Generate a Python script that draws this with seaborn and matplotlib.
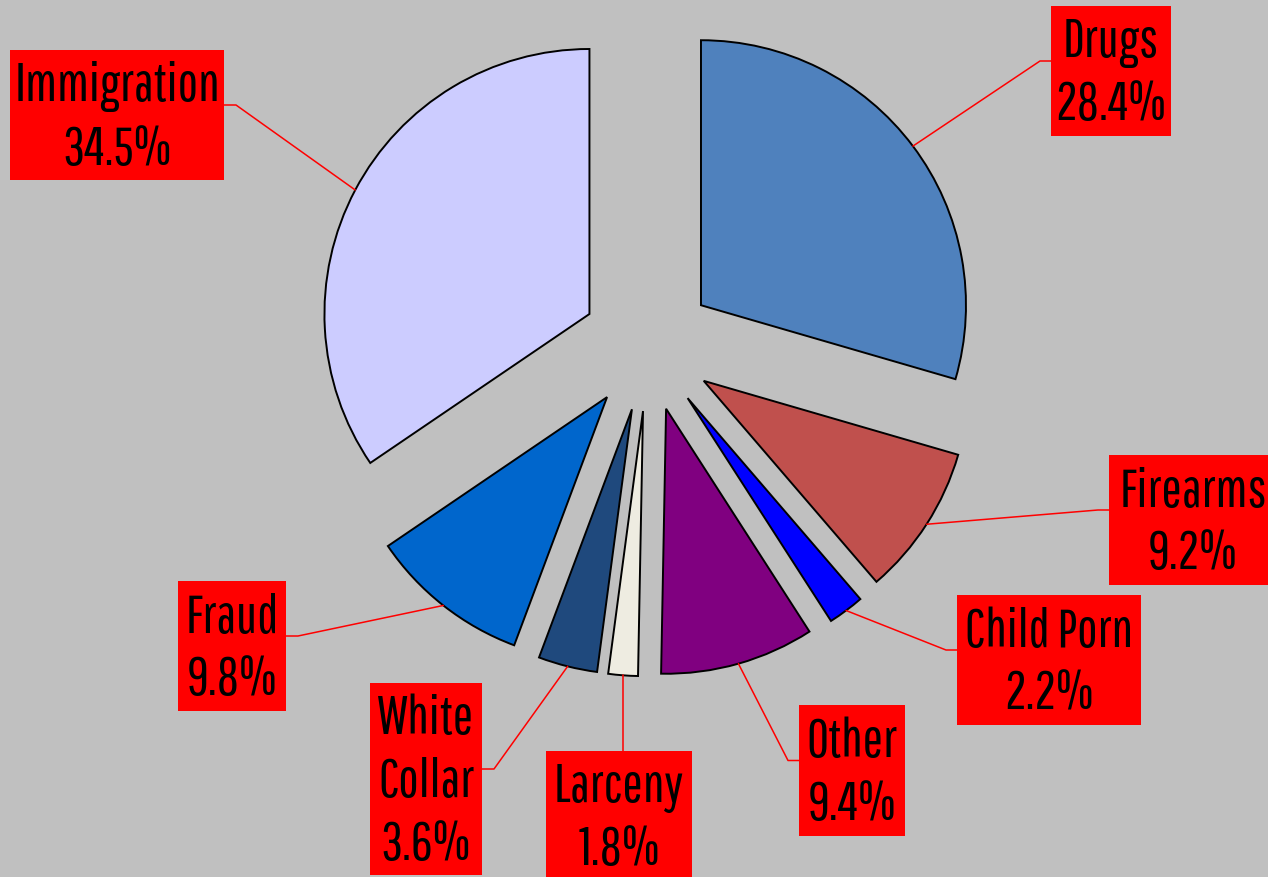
import matplotlib.pyplot as plt
from matplotlib.patches import Rectangle
import numpy as np
import seaborn as sns

# Data
categories = ["Drugs", "Firearms", "Child Porn", "Other", "Larceny",
              "White Collar", "Fraud", "Immigration"]
label_names = ["Drugs", "Firearms", "Child Porn", "Other", "Larceny",
               "White\nCollar", "Fraud", "Immigration"]
shares = [28.4, 9.2, 2.2, 9.4, 1.8, 3.6, 9.8, 34.5]
colors = ["#4F81BD", "#C0504D", "#0000FF", "#800080", "#EEECE1",
          "#1F497D", "#0066CC", "#CCCCFF"]

# Drugs wedge takes the share left over so the pie closes at 12 o'clock
sizes = [100 - sum(shares[1:])] + shares[1:]

# Layout of the label boxes in image pixels: left, top, right, bottom, leader side
boxes = [
    (1051, 7, 1171, 137, "left"),
    (1109, 456, 1277, 586, "left"),
    (957, 596, 1141, 726, "left"),
    (799, 706, 905, 837, "left"),
    (546, 752, 692, 882, "top"),
    (370, 684, 482, 876, "right"),
    (178, 582, 286, 712, "right"),
    (10, 51, 224, 181, "right"),
]

W, H = 1268, 878
CX, CY, R = 648, 346, 265


def px(x, y):
    return (x - CX) / R, (CY - y) / R


sns.set_style("white")
plt.rcParams["font.family"] = ["Saira Extra Condensed", "Pathway Gothic One",
                               "Antonio", "DejaVu Sans"]

fig = plt.figure(figsize=(W / 100, H / 100), dpi=100)
fig.patch.set_facecolor("#C0C0C0")
ax = fig.add_axes([0, 0, 1, 1])
ax.set_facecolor("#C0C0C0")

wedges, _ = ax.pie(
    sizes,
    colors=colors,
    startangle=90,
    counterclock=False,
    explode=[0.25] * len(sizes),
    radius=1,
    wedgeprops=dict(edgecolor="black", linewidth=1.4),
)

x0, y1 = px(0, 0)
x1, y0 = px(W, H)
ax.set_xlim(x0, x1)
ax.set_ylim(y0, y1)
ax.set_aspect("equal")
ax.axis("off")

for w, name, share, (l, t, r, b, side) in zip(wedges, label_names, shares, boxes):
    ang = np.deg2rad((w.theta1 + w.theta2) / 2)
    sx = w.center[0] + w.r * np.cos(ang)
    sy = w.center[1] + w.r * np.sin(ang)

    bl, bt = px(l, t)
    br, bb = px(r, b)
    ax.add_patch(Rectangle((bl, bb), br - bl, bt - bb, facecolor="red",
                           edgecolor="none", zorder=3))

    ey = (bt + bb) / 2 + 10 / R
    if side == "left":
        pts = [(sx, sy), (bl - 11 / R, ey), (bl, ey)]
    elif side == "right":
        pts = [(sx, sy), (br + 12 / R, ey), (br, ey)]
    else:
        pts = [(sx, sy), (sx, bt)]
    xs, ys = zip(*pts)
    ax.plot(xs, ys, color="red", linewidth=1.1, zorder=2)

    ax.text((bl + br) / 2, (bt + bb) / 2 - 2 / R, f"{name}\n{share}%",
            ha="center", va="center", fontsize=39, linespacing=1.32,
            color="black", zorder=4)

fig.savefig("out.png", dpi=100, facecolor=fig.get_facecolor())
